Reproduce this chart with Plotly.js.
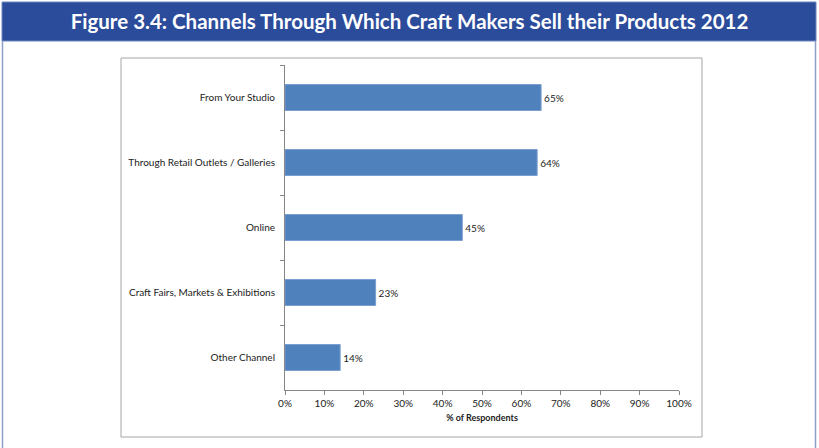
<!DOCTYPE html>
<html><head><meta charset="utf-8">
<script src="https://cdn.plot.ly/plotly-3.0.1.min.js"></script>
<style>html,body{margin:0;padding:0;background:#fff;}#chart{width:819px;height:448px;}</style>
</head><body><div id="chart"></div>
<script>
const categories = ["From Your Studio","Through Retail Outlets / Galleries","Online","Craft Fairs, Markets & Exhibitions","Other Channel"];
const values = [65, 64, 45, 23, 14];
const xTickVals = [0,10,20,30,40,50,60,70,80,90,100];
const xTickText = ["0%","10%","20%","30%","40%","50%","60%","70%","80%","90%","100%"];

const W = 819, H = 448, L = 285, R = 679, T = 65, B = 390;
const px = x => (x - L) / (R - L);
const py = y => (B - y) / (B - T);
const font = "Lato, 'Open Sans', sans-serif";

const trace = {
  type: 'bar', orientation: 'h',
  x: values, y: categories,
  marker: {color: '#4F81BD', line: {color: '#7A9FD0', width: 1}},
  width: 0.4,
  text: values.map(v => v + '%'),
  textposition: 'outside',
  textfont: {family: font, size: 10, color: '#222'},
  cliponaxis: false,
  hoverinfo: 'none'
};

const layout = {
  width: W, height: H,
  margin: {l: L, r: W - R, t: T, b: H - B},
  paper_bgcolor: '#fff', plot_bgcolor: '#fff',
  showlegend: false,
  font: {family: font, size: 10, color: '#222'},
  xaxis: {
    range: [0, 100], tickvals: xTickVals, ticktext: xTickText,
    showgrid: false, zeroline: false,
    showline: true, linecolor: '#868686', linewidth: 1,
    ticks: 'outside', ticklen: 4, tickcolor: '#868686',
    tickfont: {family: font, size: 10, color: '#222'},
    title: {text: '<b>% of Respondents</b>', font: {family: font, size: 9, color: '#222'}, standoff: 6},
    fixedrange: true
  },
  yaxis: {
    type: 'category', categoryorder: 'array', categoryarray: categories,
    autorange: 'reversed',
    showgrid: false, zeroline: false,
    showline: true, linecolor: '#868686', linewidth: 1,
    ticks: 'outside', ticklen: 4, tickcolor: '#868686', tickson: 'boundaries',
    tickfont: {family: font, size: 10, color: '#222'},
    ticklabelstandoff: 7,
    fixedrange: true
  },
  title: {
    text: '<b>Figure 3.4: Channels Through Which Craft Makers Sell their Products 2012</b>',
    font: {family: font, size: 20.5, color: '#fff'},
    x: 0.5, xref: 'container', xanchor: 'center',
    y: 1 - 21.5/H, yref: 'container', yanchor: 'middle'
  },
  shapes: [
    {type: 'rect', xref: 'paper', yref: 'paper', x0: px(2), x1: px(816), y0: py(2), y1: py(41), fillcolor: '#2B4C9B', line: {color: '#6F86BF', width: 1}, layer: 'below'},
    {type: 'line', xref: 'paper', yref: 'paper', x0: px(2.5), x1: px(2.5), y0: py(41), y1: py(449), line: {color: '#8EA0C8', width: 1.5}},
    {type: 'line', xref: 'paper', yref: 'paper', x0: px(815.5), x1: px(815.5), y0: py(41), y1: py(449), line: {color: '#8EA0C8', width: 1.5}},
    {type: 'rect', xref: 'paper', yref: 'paper', x0: px(121), x1: px(702), y0: py(58), y1: py(437), fillcolor: 'rgba(0,0,0,0)', line: {color: '#A6A6A6', width: 1}}
  ]
};

Plotly.newPlot('chart', [trace], layout, {staticPlot: true, displayModeBar: false});
</script></body></html>
